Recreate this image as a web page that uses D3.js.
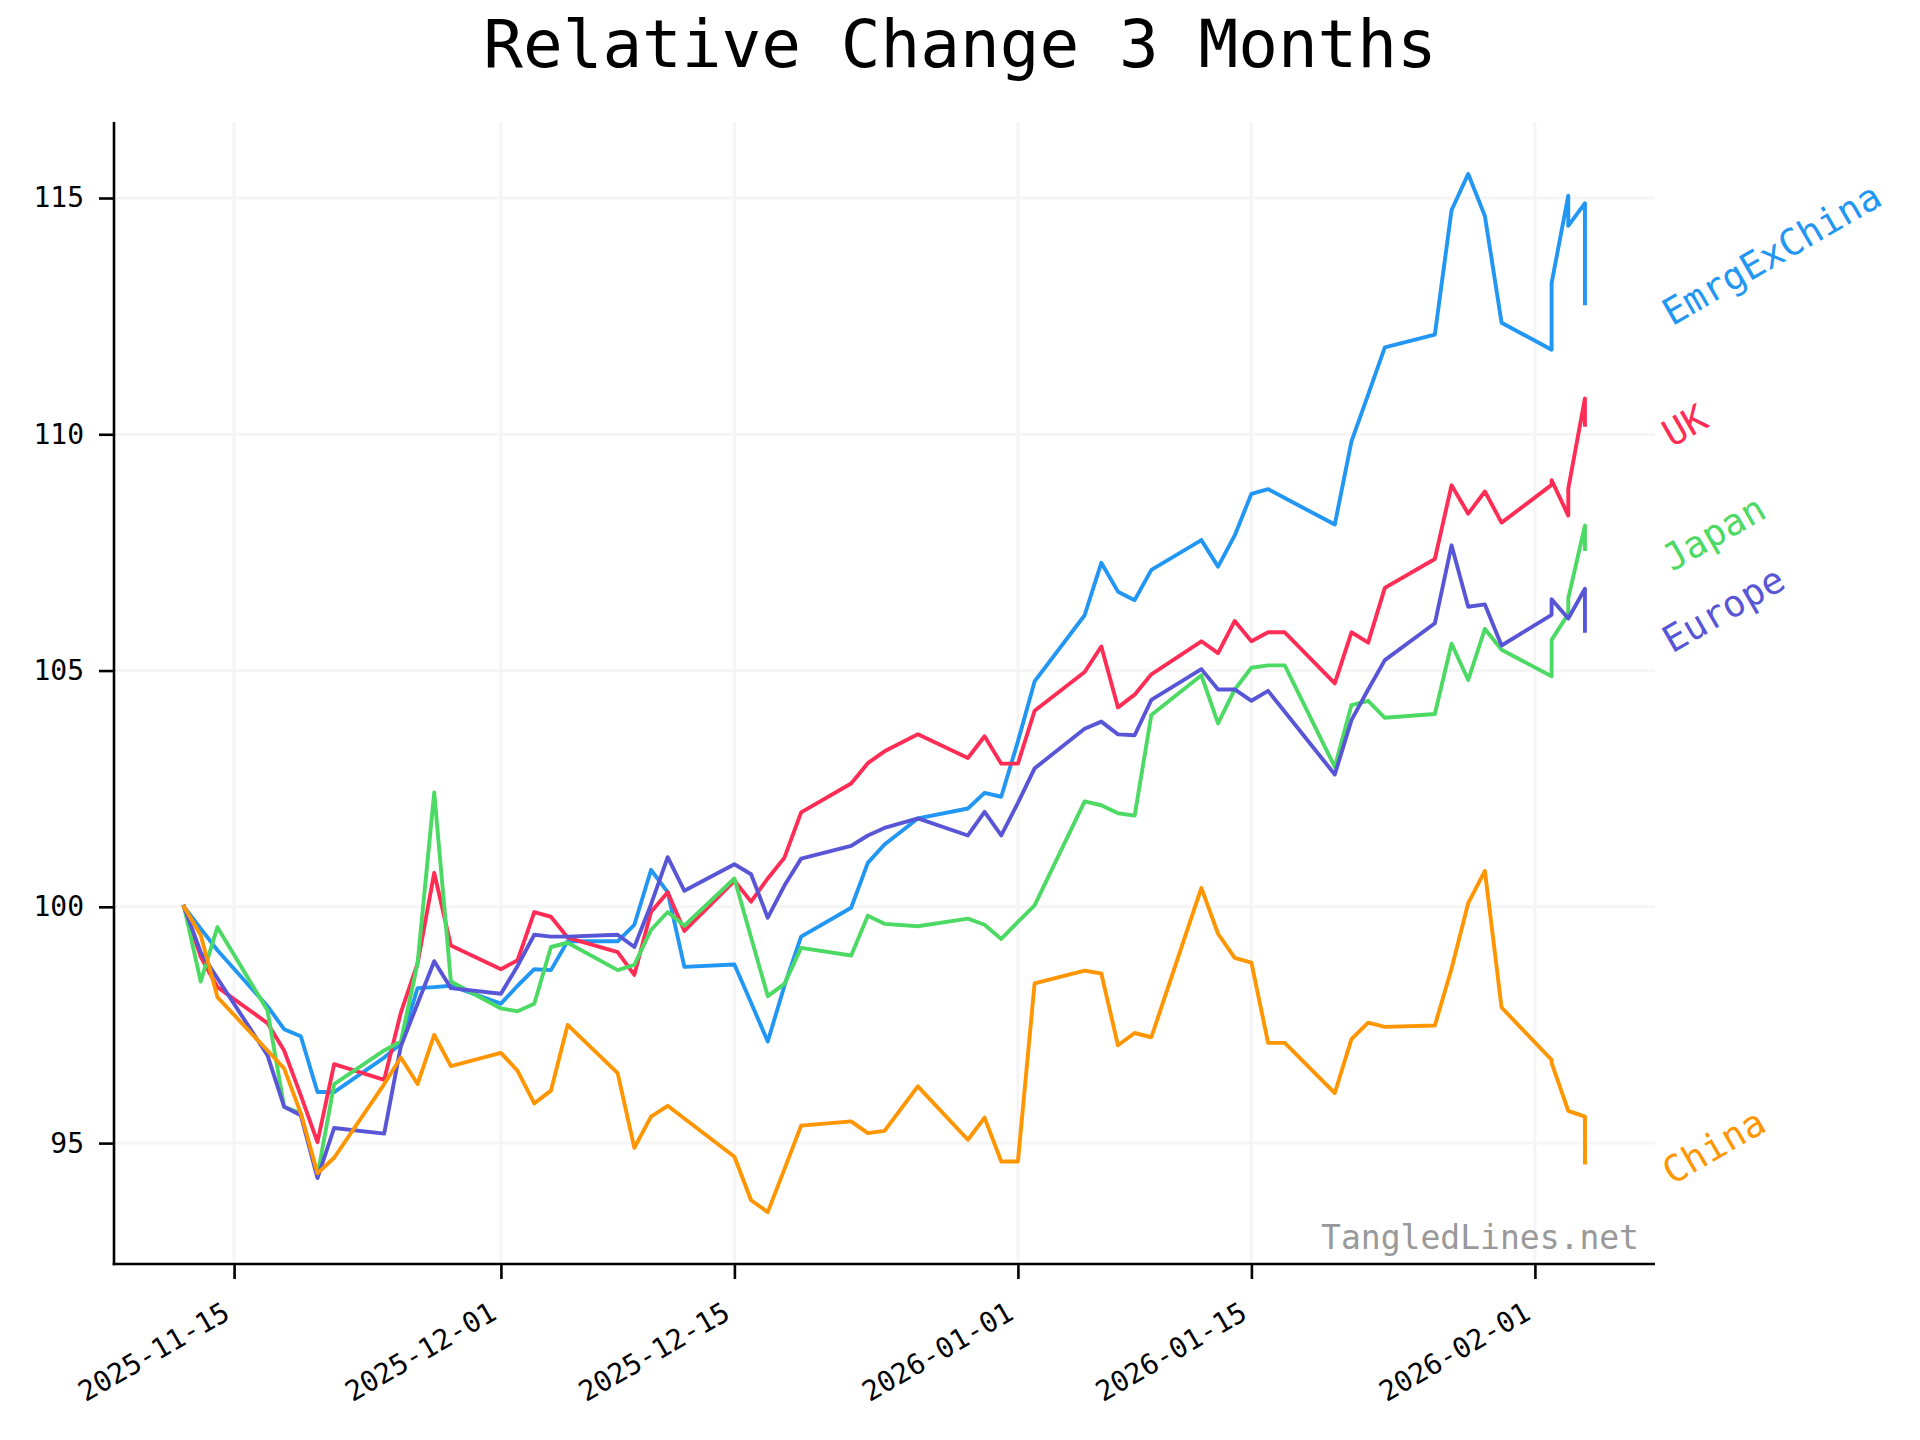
<!DOCTYPE html>
<html>
<head>
<meta charset="utf-8">
<script src="https://cdn.jsdelivr.net/npm/d3@7"></script>
<style>
  html, body { margin: 0; padding: 0; background: #fff; }
  svg { display: block; }
  text { font-family: "DejaVu Sans Mono", monospace; }
</style>
</head>
<body>
<svg id="chart" width="1920" height="1440"></svg>
<script>
const dates = ["2025-11-12","2025-11-13","2025-11-14","2025-11-17","2025-11-18","2025-11-19","2025-11-20","2025-11-21","2025-11-24","2025-11-25","2025-11-26","2025-11-27","2025-11-28",
"2025-12-01","2025-12-02","2025-12-03","2025-12-04","2025-12-05","2025-12-08","2025-12-09","2025-12-10","2025-12-11","2025-12-12","2025-12-15","2025-12-16","2025-12-17","2025-12-18","2025-12-19","2025-12-22","2025-12-23","2025-12-24","2025-12-26","2025-12-29","2025-12-30","2025-12-31",
"2026-01-01","2026-01-02","2026-01-05","2026-01-06","2026-01-07","2026-01-08","2026-01-09","2026-01-12","2026-01-13","2026-01-14","2026-01-15","2026-01-16","2026-01-17","2026-01-20","2026-01-21","2026-01-22","2026-01-23","2026-01-26","2026-01-27","2026-01-28","2026-01-29","2026-01-30",
"2026-02-02","2026-02-02","2026-02-03","2026-02-03","2026-02-04","2026-02-04"];

const seriesNames = ["EmrgExChina", "UK", "Japan", "Europe", "China"];
const seriesColors = ["#2196F3", "#FF2D55", "#4CD964", "#5856D6", "#FF9500"];

const emrgExChina = [100, 99.54, 99.08, 97.9, 97.41, 97.26, 96.08, 96.08, 96.81, 97.1, 98.28, 98.3, 98.33,
97.95, 98.33, 98.68, 98.66, 99.27, 99.27, 99.62, 100.78, 100.31, 98.73, 98.78, 97.97, 97.15, 98.33, 99.37, 99.98, 100.93, 101.32, 101.87, 102.08, 102.41, 102.33,
103.5, 104.77, 106.17, 107.28, 106.67, 106.49, 107.13, 107.76, 107.2, 107.86, 108.74, 108.84, 108.65, 108.09, 109.85, 110.84, 111.84, 112.11, 114.74, 115.51, 114.62, 112.36,
111.79, 113.2, 115.05, 114.41, 114.89, 112.77];

const uk = [100, 98.94, 98.3, 97.54, 96.96, 96.01, 95.02, 96.67, 96.34, 97.76, 98.8, 100.72, 99.18,
98.68, 98.87, 99.89, 99.79, 99.35, 99.04, 98.56, 99.89, 100.31, 99.49, 100.55, 100.11, 100.6, 101.04, 102.0, 102.61, 103.04, 103.29, 103.65, 103.15, 103.61, 103.03,
103.03, 104.15, 104.97, 105.51, 104.22, 104.49, 104.92, 105.62, 105.37, 106.05, 105.62, 105.81, 105.81, 104.73, 105.81, 105.59, 106.75, 107.36, 108.92, 108.32, 108.79, 108.13,
108.93, 109.03, 108.28, 108.85, 110.76, 110.2];

const japan = [100, 98.42, 99.57, 97.81, 95.77, 95.63, 94.31, 96.25, 96.96, 97.15, 98.8, 102.42, 98.42,
97.85, 97.79, 97.95, 99.15, 99.24, 98.66, 98.77, 99.51, 99.89, 99.6, 100.6, 99.35, 98.11, 98.37, 99.13, 98.97, 99.81, 99.64, 99.59, 99.75, 99.62, 99.32,
99.68, 100.03, 102.23, 102.15, 101.98, 101.93, 104.06, 104.9, 103.88, 104.6, 105.06, 105.11, 105.11, 102.96, 104.27, 104.36, 104.0, 104.08, 105.57, 104.8, 105.88, 105.44,
104.88, 105.65, 106.2, 106.53, 108.07, 107.57];

const europe = [100, 99.04, 98.49, 96.86, 95.77, 95.59, 94.26, 95.32, 95.2, 97.05, 97.95, 98.85, 98.28,
98.16, 98.75, 99.41, 99.37, 99.37, 99.41, 99.15, 100.05, 101.05, 100.34, 100.9, 100.69, 99.77, 100.45, 101.02, 101.29, 101.51, 101.67, 101.87, 101.51, 102.01, 101.51,
102.2, 102.93, 103.77, 103.92, 103.65, 103.63, 104.38, 105.03, 104.6, 104.6, 104.36, 104.57, 104.13, 102.8, 103.95, 104.6, 105.22, 106.0, 107.65, 106.35, 106.4, 105.53,
106.18, 106.51, 106.1, 106.1, 106.73, 105.84];

const china = [100, 99.4, 98.09, 96.96, 96.58, 95.63, 94.36, 94.69, 96.25, 96.81, 96.25, 97.29, 96.63,
96.91, 96.53, 95.84, 96.11, 97.5, 96.48, 94.9, 95.56, 95.79, 95.52, 94.71, 93.79, 93.54, 94.45, 95.37, 95.46, 95.21, 95.26, 96.2, 95.07, 95.54, 94.61,
94.61, 98.38, 98.65, 98.59, 97.07, 97.33, 97.24, 100.4, 99.43, 98.92, 98.82, 97.12, 97.12, 96.06, 97.2, 97.55, 97.46, 97.49, 98.69, 100.08, 100.76, 97.87,
96.76, 96.7, 95.68, 95.68, 95.56, 94.59];

const seriesValues = [emrgExChina, uk, japan, europe, china];

const yTicks = [95, 100, 105, 110, 115];
const xTickLabels = ["2025-11-15", "2025-12-01", "2025-12-15", "2026-01-01", "2026-01-15", "2026-02-01"];

const titleText = "Relative Change 3 Months";
const watermarkText = "TangledLines.net";

// ---- layout ----
const W = 1920, H = 1440;
const plot = { left: 114, right: 1655, top: 122, bottom: 1264 };

const parse = d3.utcParse("%Y-%m-%d");
const xDates = dates.map(parse);

// matplotlib-like 5% margins
const xExt = d3.extent(xDates);
const xPad = (xExt[1] - xExt[0]) * 0.05;
const allVals = seriesValues.flat();
const yExt = d3.extent(allVals);
const yPad = (yExt[1] - yExt[0]) * 0.05;

const x = d3.scaleUtc()
  .domain([new Date(+xExt[0] - xPad), new Date(+xExt[1] + xPad)])
  .range([plot.left, plot.right]);
const y = d3.scaleLinear()
  .domain([yExt[0] - yPad, yExt[1] + yPad])
  .range([plot.bottom, plot.top]);

const svg = d3.select("#chart");
svg.append("rect").attr("width", W).attr("height", H).attr("fill", "#fff");

// grid
const gridG = svg.append("g");
gridG.selectAll("line.gy").data(yTicks).join("line")
  .attr("x1", plot.left).attr("x2", plot.right)
  .attr("y1", d => y(d)).attr("y2", d => y(d))
  .attr("stroke", "#f5f5f5").attr("stroke-width", 3);
gridG.selectAll("line.gx").data(xTickLabels.map(parse)).join("line")
  .attr("x1", d => x(d)).attr("x2", d => x(d))
  .attr("y1", plot.top).attr("y2", plot.bottom)
  .attr("stroke", "#f5f5f5").attr("stroke-width", 3);

// lines
const line = d3.line()
  .x((d, i) => x(xDates[i]))
  .y(d => y(d));

const linesG = svg.append("g");
seriesValues.forEach((vals, k) => {
  linesG.append("path")
    .datum(vals)
    .attr("d", line)
    .attr("fill", "none")
    .attr("stroke", seriesColors[k])
    .attr("stroke-width", 3.9)
    .attr("stroke-linejoin", "round")
    .attr("stroke-linecap", "square");
});

// axes
const yAxis = d3.axisLeft(y).tickValues(yTicks).tickSize(15).tickPadding(15).tickFormat(d3.format("d"));
const yG = svg.append("g").attr("transform", `translate(${plot.left},0)`).call(yAxis);
yG.select(".domain").remove();
yG.selectAll(".tick line").attr("stroke", "#000").attr("stroke-width", 2.6);
yG.selectAll(".tick text").attr("font-size", 28).attr("fill", "#000")
  .attr("font-family", "DejaVu Sans Mono");

const xAxis = d3.axisBottom(x).tickValues(xTickLabels.map(parse)).tickSize(15)
  .tickFormat(d3.utcFormat("%Y-%m-%d"));
const xG = svg.append("g").attr("transform", `translate(0,${plot.bottom})`).call(xAxis);
xG.select(".domain").remove();
xG.selectAll(".tick line").attr("stroke", "#000").attr("stroke-width", 2.6);
xG.selectAll(".tick text")
  .attr("font-size", 28).attr("fill", "#000")
  .attr("font-family", "DejaVu Sans Mono")
  .attr("text-anchor", "end")
  .attr("y", 0).attr("dy", 0)
  .attr("transform", "translate(-3,54) rotate(-30)");

// spines
svg.append("line").attr("x1", plot.left).attr("x2", plot.left)
  .attr("y1", plot.top).attr("y2", plot.bottom + 1.3)
  .attr("stroke", "#000").attr("stroke-width", 2.6);
svg.append("line").attr("x1", plot.left - 1.3).attr("x2", plot.right)
  .attr("y1", plot.bottom).attr("y2", plot.bottom)
  .attr("stroke", "#000").attr("stroke-width", 2.6);

// series end labels
seriesNames.forEach((name, k) => {
  const vals = seriesValues[k];
  const lx = plot.right + 17;
  const ly = y(vals[vals.length - 1]) + 23;
  svg.append("text")
    .attr("transform", `translate(${lx},${ly}) rotate(-30)`)
    .attr("font-size", 37)
    .attr("fill", seriesColors[k])
    .text(name);
});

// title
svg.append("text")
  .attr("x", W / 2).attr("y", 67)
  .attr("text-anchor", "middle")
  .attr("font-size", 66)
  .attr("fill", "#000")
  .text(titleText);

// watermark
svg.append("text")
  .attr("x", plot.right - 16).attr("y", plot.bottom - 15)
  .attr("text-anchor", "end")
  .attr("font-size", 33)
  .attr("fill", "#999999")
  .text(watermarkText);
</script>
</body>
</html>
